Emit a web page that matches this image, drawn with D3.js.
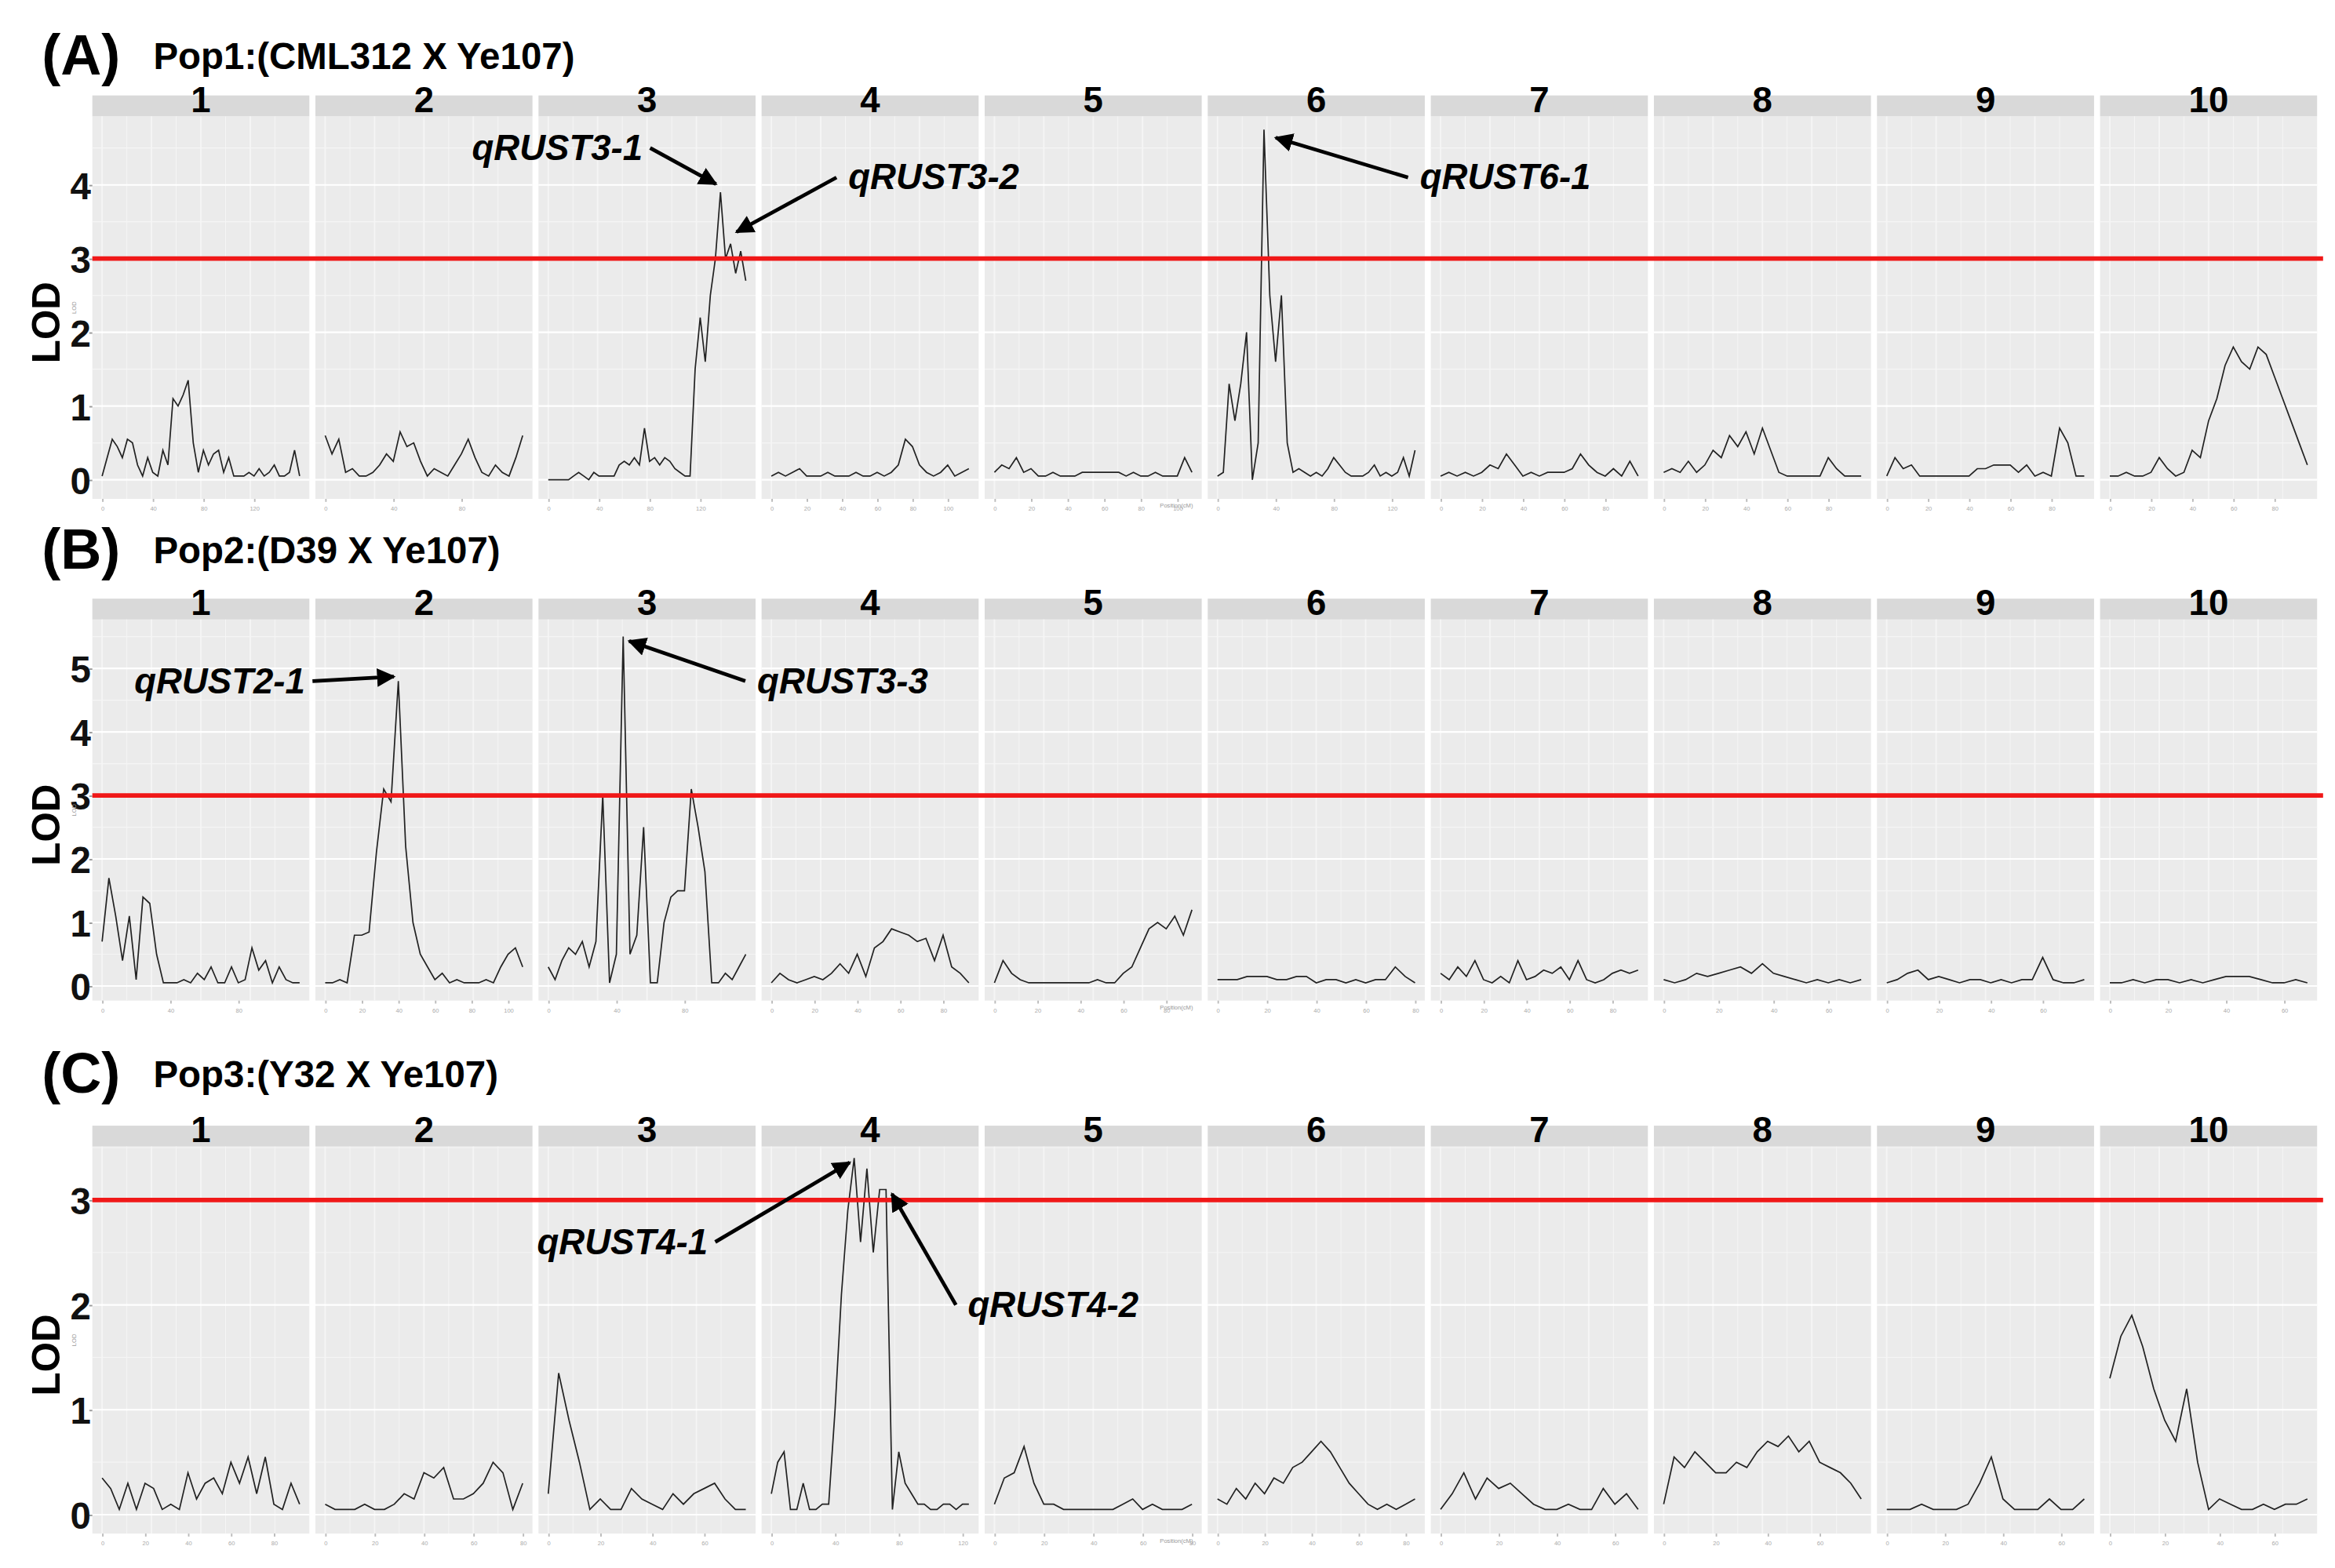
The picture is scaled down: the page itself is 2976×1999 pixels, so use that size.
<!DOCTYPE html>
<html><head><meta charset="utf-8">
<script src="https://cdn.jsdelivr.net/npm/d3@7"></script>
<style>body{margin:0;background:#fff}</style></head>
<body><svg id="c" width="2976" height="1999" viewBox="0 0 1568 1053"></svg>
<script>
const chromosomes = ["1","2","3","4","5","6","7","8","9","10"];
const panelTitles = [["(A)","Pop1:(CML312 X Ye107)"],["(B)","Pop2:(D39 X Ye107)"],["(C)","Pop3:(Y32 X Ye107)"]];
const threshold = 3;
const yTicksA = [0,1,2,3,4], yTicksB = [0,1,2,3,4,5], yTicksC = [0,1,2,3];
const yDomA = [-0.26, 4.93], yDomB = [-0.23, 5.77], yDomC = [-0.18, 3.51];

const lodA = [
 [0.05,0.3,0.55,0.45,0.3,0.55,0.5,0.2,0.05,0.3,0.1,0.05,0.4,0.2,1.1,1.0,1.15,1.35,0.5,0.1,0.4,0.2,0.35,0.4,0.1,0.3,0.05,0.05,0.05,0.1,0.05,0.15,0.05,0.1,0.2,0.05,0.05,0.1,0.4,0.05],
 [0.6,0.35,0.55,0.1,0.15,0.05,0.05,0.1,0.2,0.35,0.25,0.65,0.45,0.5,0.25,0.05,0.15,0.1,0.05,0.2,0.35,0.55,0.3,0.1,0.05,0.2,0.1,0.05,0.3,0.6],
 [0,0,0,0,0,0.05,0.1,0.05,0,0.1,0.05,0.05,0.05,0.05,0.2,0.25,0.2,0.3,0.2,0.7,0.25,0.3,0.2,0.3,0.25,0.15,0.1,0.05,0.05,1.5,2.2,1.6,2.5,3.0,3.9,3.0,3.2,2.8,3.1,2.7],
 [0.05,0.1,0.05,0.1,0.15,0.05,0.05,0.05,0.1,0.05,0.05,0.05,0.1,0.05,0.05,0.1,0.05,0.1,0.2,0.55,0.45,0.2,0.1,0.05,0.1,0.2,0.05,0.1,0.15],
 [0.1,0.2,0.15,0.3,0.1,0.15,0.05,0.05,0.1,0.05,0.05,0.05,0.1,0.1,0.1,0.1,0.1,0.1,0.05,0.1,0.05,0.05,0.1,0.05,0.05,0.05,0.3,0.1],
 [0.05,0.1,1.3,0.8,1.3,2.0,0,0.5,4.75,2.5,1.6,2.5,0.5,0.1,0.15,0.1,0.05,0.1,0.05,0.15,0.3,0.2,0.1,0.05,0.05,0.05,0.1,0.2,0.05,0.1,0.05,0.1,0.3,0.05,0.4],
 [0.05,0.1,0.05,0.1,0.05,0.1,0.2,0.15,0.35,0.2,0.05,0.1,0.05,0.1,0.1,0.1,0.15,0.35,0.2,0.1,0.05,0.15,0.05,0.25,0.05],
 [0.1,0.15,0.1,0.25,0.1,0.2,0.4,0.3,0.6,0.45,0.65,0.35,0.7,0.4,0.1,0.05,0.05,0.05,0.05,0.05,0.3,0.15,0.05,0.05,0.05],
 [0.05,0.3,0.15,0.2,0.05,0.05,0.05,0.05,0.05,0.05,0.05,0.15,0.15,0.2,0.2,0.2,0.1,0.2,0.05,0.1,0.05,0.7,0.5,0.05,0.05],
 [0.05,0.05,0.1,0.05,0.05,0.1,0.3,0.15,0.05,0.1,0.4,0.3,0.8,1.1,1.55,1.8,1.6,1.5,1.8,1.7,1.4,1.1,0.8,0.5,0.2]
];
const lodB = [
 [0.7,1.7,1.1,0.4,1.1,0.1,1.4,1.3,0.5,0.05,0.05,0.05,0.1,0.05,0.2,0.1,0.3,0.05,0.05,0.3,0.05,0.1,0.6,0.25,0.4,0.05,0.3,0.1,0.05,0.05],
 [0.05,0.05,0.1,0.05,0.8,0.8,0.85,2.1,3.1,2.9,4.8,2.2,1.0,0.5,0.3,0.1,0.2,0.05,0.1,0.05,0.05,0.05,0.1,0.05,0.3,0.5,0.6,0.3],
 [0.3,0.1,0.4,0.6,0.5,0.7,0.3,0.7,3.0,0.05,0.5,5.5,0.5,0.8,2.5,0.05,0.05,1.0,1.4,1.5,1.5,3.1,2.5,1.8,0.05,0.05,0.2,0.1,0.3,0.5],
 [0.05,0.2,0.1,0.05,0.1,0.15,0.1,0.2,0.35,0.2,0.5,0.15,0.6,0.7,0.9,0.85,0.8,0.7,0.75,0.4,0.8,0.3,0.2,0.05],
 [0.05,0.4,0.2,0.1,0.05,0.05,0.05,0.05,0.05,0.05,0.05,0.05,0.1,0.05,0.05,0.2,0.3,0.6,0.9,1.0,0.9,1.1,0.8,1.2],
 [0.1,0.1,0.1,0.15,0.15,0.15,0.1,0.1,0.15,0.15,0.05,0.1,0.1,0.05,0.1,0.05,0.1,0.1,0.3,0.15,0.05],
 [0.2,0.1,0.3,0.15,0.4,0.1,0.05,0.15,0.05,0.4,0.1,0.15,0.25,0.2,0.3,0.1,0.4,0.1,0.05,0.1,0.2,0.25,0.2,0.25],
 [0.1,0.05,0.1,0.2,0.15,0.2,0.25,0.3,0.2,0.35,0.2,0.15,0.1,0.05,0.1,0.05,0.1,0.05,0.1],
 [0.05,0.1,0.2,0.25,0.1,0.15,0.1,0.05,0.1,0.1,0.05,0.1,0.05,0.1,0.1,0.45,0.1,0.05,0.05,0.1],
 [0.05,0.05,0.1,0.05,0.1,0.1,0.05,0.1,0.05,0.1,0.15,0.15,0.15,0.1,0.05,0.05,0.1,0.05]
];
const lodC = [
 [0.35,0.25,0.05,0.3,0.05,0.3,0.25,0.05,0.1,0.05,0.4,0.15,0.3,0.35,0.2,0.5,0.3,0.55,0.2,0.55,0.1,0.05,0.3,0.1],
 [0.1,0.05,0.05,0.05,0.1,0.05,0.05,0.1,0.2,0.15,0.4,0.35,0.45,0.15,0.15,0.2,0.3,0.5,0.4,0.05,0.3],
 [0.2,1.35,0.9,0.5,0.05,0.15,0.05,0.05,0.25,0.15,0.1,0.05,0.2,0.1,0.2,0.25,0.3,0.15,0.05,0.05],
 [0.2,0.5,0.6,0.05,0.05,0.3,0.05,0.05,0.1,0.1,1.0,2.1,2.9,3.4,2.6,3.3,2.5,3.1,3.1,0.05,0.6,0.3,0.2,0.1,0.1,0.05,0.05,0.1,0.1,0.05,0.1,0.1],
 [0.1,0.35,0.4,0.65,0.3,0.1,0.1,0.05,0.05,0.05,0.05,0.05,0.05,0.1,0.15,0.05,0.1,0.05,0.05,0.05,0.1],
 [0.15,0.1,0.25,0.15,0.3,0.2,0.35,0.3,0.45,0.5,0.6,0.7,0.6,0.45,0.3,0.2,0.1,0.05,0.1,0.05,0.1,0.15],
 [0.05,0.2,0.4,0.15,0.35,0.25,0.3,0.2,0.1,0.05,0.05,0.1,0.05,0.05,0.25,0.1,0.2,0.05],
 [0.1,0.55,0.45,0.6,0.5,0.4,0.4,0.5,0.45,0.6,0.7,0.65,0.75,0.6,0.7,0.5,0.45,0.4,0.3,0.15],
 [0.05,0.05,0.05,0.1,0.05,0.05,0.05,0.1,0.3,0.55,0.15,0.05,0.05,0.05,0.15,0.05,0.05,0.15],
 [1.3,1.7,1.9,1.6,1.2,0.9,0.7,1.2,0.5,0.05,0.15,0.1,0.05,0.05,0.1,0.05,0.1,0.1,0.15]
];
const annA = [
 {t:"qRUST3-1",chr:2,idx:34,lod:3.95,tc:2,tf:0.48,tl:4.5,a:"end"},
 {t:"qRUST3-2",chr:2,idx:36,lod:3.3,tc:3,tf:0.4,tl:4.1,a:"start"},
 {t:"qRUST6-1",chr:5,idx:9,lod:4.7,tc:6,tf:-0.05,tl:4.1,a:"start"}];
const annB = [
 {t:"qRUST2-1",chr:1,idx:10,lod:4.8,tc:0,tf:0.98,tl:4.8,a:"end"},
 {t:"qRUST3-3",chr:2,idx:11,lod:5.5,tc:3,tf:-0.02,tl:4.8,a:"start"}];
const annC = [
 {t:"qRUST4-1",chr:3,idx:13,lod:3.4,tc:2,tf:0.78,tl:2.6,a:"end"},
 {t:"qRUST4-2",chr:3,idx:18,lod:3.1,tc:3,tf:0.95,tl:2.0,a:"start"}];

const svg = d3.select("#c");
const defs = svg.append("defs");
defs.append("marker").attr("id","ah").attr("viewBox","0 0 10 10").attr("refX",9).attr("refY",5)
 .attr("markerWidth",5).attr("markerHeight",5).attr("orient","auto")
 .append("path").attr("d","M0,0 L10,5 L0,10 Z").attr("fill","#000");
const F = "Liberation Sans, Arial, sans-serif";
const band = d3.scaleBand().domain(chromosomes).range([62,1556]).paddingInner(0.027);

const panels = [
 {data:lodA,ticks:yTicksA,dom:yDomA,top:78,bot:335,ty:38,ann:annA},
 {data:lodB,ticks:yTicksB,dom:yDomB,top:416,bot:672,ty:370,ann:annB},
 {data:lodC,ticks:yTicksC,dom:yDomC,top:770,bot:1030,ty:722,ann:annC}];

panels.forEach((p,pi)=>{
 const g = svg.append("g");
 const y = d3.scaleLinear().domain(p.dom).range([p.bot,p.top]);
 g.append("text").attr("x",28).attr("y",p.ty+12).attr("font-family",F).attr("font-weight","bold").attr("font-size",38).text(panelTitles[pi][0]);
 g.append("text").attr("x",103).attr("y",p.ty+8).attr("font-family",F).attr("font-weight","bold").attr("font-size",25).text(panelTitles[pi][1]);
 const xs = [];
 chromosomes.forEach((c,ci)=>{
  const x0 = band(c), w = band.bandwidth();
  const n = p.data[ci].length;
  const x = d3.scaleLinear().domain([0,n-1]).range([x0+w*0.045,x0+w*0.955]);
  xs.push(x);
  g.append("rect").attr("x",x0).attr("y",p.top).attr("width",w).attr("height",p.bot-p.top).attr("fill","#EBEBEB");
  g.append("rect").attr("x",x0).attr("y",p.top-14).attr("width",w).attr("height",14).attr("fill","#D9D9D9");
  g.append("text").attr("x",x0+w/2).attr("y",p.top-3).attr("text-anchor","middle").attr("font-family",F).attr("font-weight","bold").attr("font-size",24).text(c);
  const minor = d3.range(Math.ceil(p.dom[0]*2)/2, p.dom[1], 0.5).filter(v=>v%1!==0);
  minor.forEach(v=>g.append("line").attr("x1",x0).attr("x2",x0+w).attr("y1",y(v)).attr("y2",y(v)).attr("stroke","#F5F5F5").attr("stroke-width",0.6));
  d3.range(0,n-1,(n-1)/8).forEach((v,k)=>g.append("line").attr("x1",x(v)).attr("x2",x(v)).attr("y1",p.top).attr("y2",p.bot).attr("stroke","#F5F5F5").attr("stroke-width",k%2?0.5:1));
  p.ticks.forEach(v=>g.append("line").attr("x1",x0).attr("x2",x0+w).attr("y1",y(v)).attr("y2",y(v)).attr("stroke","#fff").attr("stroke-width",1.1));
  const ax = g.append("g").attr("transform",`translate(0,${p.bot})`).call(d3.axisBottom(x).ticks(4).tickSize(2).tickFormat(d=>Math.round(d*4)));
  ax.select(".domain").remove();
  ax.selectAll("line").attr("stroke","#bbb");
  ax.selectAll("text").attr("font-size",4).attr("fill","#aaa");
  g.append("path").datum(p.data[ci]).attr("fill","none").attr("stroke","#222").attr("stroke-width",0.9)
   .attr("d",d3.line().x((d,i)=>x(i)).y(d=>y(d)));
 });
 const ya = g.append("g").attr("transform","translate(62,0)").call(d3.axisLeft(y).tickValues(p.ticks).tickSize(2).tickFormat(d3.format("d")));
 ya.select(".domain").remove();
 ya.selectAll("line").attr("stroke","#999");
 ya.selectAll("text").attr("font-size",25).attr("font-weight","bold").attr("font-family",F).attr("fill","#111").attr("dx",4).attr("dy","0.36em");
 g.append("text").attr("transform",`translate(40,${(p.top+p.bot)/2+10}) rotate(-90)`).attr("text-anchor","middle").attr("font-family",F).attr("font-weight","bold").attr("font-size",26).text("LOD");
 g.append("text").attr("transform",`translate(51,${(p.top+p.bot)/2}) rotate(-90)`).attr("text-anchor","middle").attr("font-family",F).attr("font-size",4).attr("fill","#999").text("LOD");
 g.append("text").attr("x",790).attr("y",p.bot+6).attr("text-anchor","middle").attr("font-family",F).attr("font-size",4).attr("fill","#999").text("Position(cM)");
 g.append("line").attr("x1",62).attr("x2",1560).attr("y1",y(threshold)).attr("y2",y(threshold)).attr("stroke","#F01818").attr("stroke-width",3);
 p.ann.forEach(a=>{
  const tx = band(chromosomes[a.tc]) + band.bandwidth()*a.tf, ty = y(a.tl);
  const px = xs[a.chr](a.idx), py = y(a.lod);
  g.append("text").attr("x",tx).attr("y",ty+8).attr("text-anchor",a.a).attr("font-family",F).attr("font-weight","bold").attr("font-style","italic").attr("font-size",24).text(a.t);
  const sx = a.a==="end"? tx+5 : tx-8;
  g.append("line").attr("x1",sx).attr("y1",ty).attr("x2",px+(sx<px?-3:4)).attr("y2",py+(ty>py?3:-3)).attr("stroke","#000").attr("stroke-width",2.5).attr("marker-end","url(#ah)");
 });
});
</script></body></html>
